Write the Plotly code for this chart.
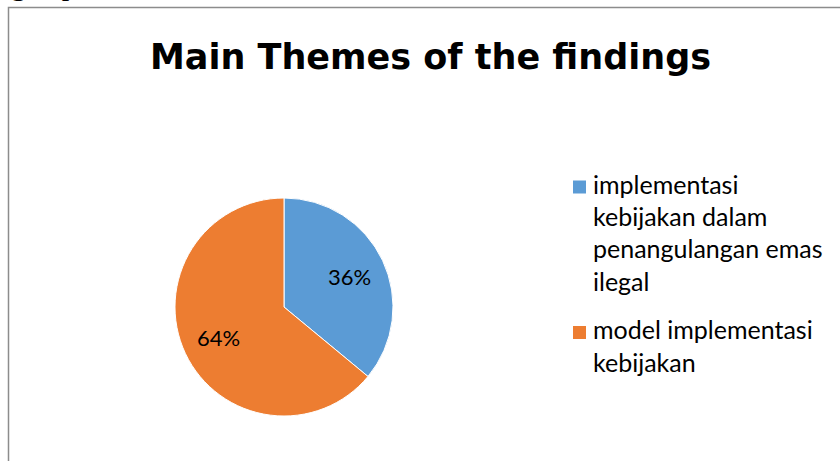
import math
import plotly.graph_objects as go

labels = ["implementasi<br>kebijakan dalam<br>penangulangan emas<br>ilegal",
          "model implementasi<br>kebijakan"]
values = [36, 64]
colors = ["#5B9BD5", "#ED7D31"]
title_text = "Main Themes of the findings"
page_text = "gan penelitian di lokasi."
W, H = 840, 461

def px_x(x):
    return x / W

def px_y(y):
    return 1 - y / H

# pie geometry (pixels)
pie_left, pie_right, pie_top, pie_bottom = 175, 393, 198, 416
cx = (pie_left + pie_right) / 2
cy = (pie_top + pie_bottom) / 2
R = (pie_right - pie_left) / 2

fig = go.Figure()
fig.add_trace(go.Pie(
    labels=labels,
    values=values,
    sort=False,
    direction="clockwise",
    rotation=0,
    marker=dict(colors=colors, line=dict(color="white", width=1)),
    textinfo="none",
    domain=dict(x=[px_x(pie_left), px_x(pie_right)], y=[px_y(pie_bottom), px_y(pie_top)]),
    hoverinfo="label+percent",
    showlegend=False,
))

annotations = []
# percentage labels placed along each slice bisector
total = sum(values)
cum = 0
for v in values:
    mid = (cum + v / 2) / total * 2 * math.pi
    cum += v
    r = 0.66 * R
    x = cx + r * math.sin(mid)
    y = cy - r * math.cos(mid)
    annotations.append(dict(text=f"{round(v / total * 100)}%", xref="paper", yref="paper",
                            x=px_x(x), y=px_y(y), xanchor="center", yanchor="middle",
                            showarrow=False,
                            font=dict(family="Lato", size=22, color="black")))

# legend (drawn manually for Office-like spacing)
shapes = [dict(type="rect", xref="paper", yref="paper",
               x0=px_x(8.5), x1=px_x(845), y0=px_y(470), y1=px_y(7.5),
               line=dict(color="#8c8c8c", width=1.5), layer="below")]
leg_square_x = 579.5
leg_text_x = 591
line_h = 32.2
item_gap = 16.7
y_cursor = 187
for lab, col in zip(labels, colors):
    shapes.append(dict(type="rect", xref="paper", yref="paper",
                       x0=px_x(leg_square_x - 6.5), x1=px_x(leg_square_x + 6.5),
                       y0=px_y(y_cursor + 6.5), y1=px_y(y_cursor - 6.5),
                       fillcolor=col, line=dict(width=0)))
    for ln in lab.split("<br>"):
        annotations.append(dict(text=ln, xref="paper", yref="paper",
                                x=px_x(leg_text_x), y=px_y(y_cursor - 3),
                                xanchor="left", yanchor="middle", showarrow=False,
                                font=dict(family="Lato", size=25, color="black")))
        y_cursor += line_h
    y_cursor += item_gap

annotations.append(dict(text=page_text, xref="paper", yref="paper",
                        x=px_x(9), y=px_y(3.5), xanchor="left", yanchor="bottom",
                        showarrow=False,
                        font=dict(family="Liberation Serif", size=30, color="black")))

fig.update_layout(
    width=W, height=H,
    margin=dict(l=0, r=0, t=0, b=0),
    paper_bgcolor="white",
    plot_bgcolor="white",
    font=dict(family="Lato", color="black"),
    title=dict(text="<b>" + title_text + "</b>",
               font=dict(family="DejaVu Sans", size=35, color="black"),
               x=px_x(430.5), xanchor="center", y=px_y(57), yanchor="middle"),
    showlegend=False,
    shapes=shapes,
    annotations=annotations,
)

fig.write_html("out.html")
